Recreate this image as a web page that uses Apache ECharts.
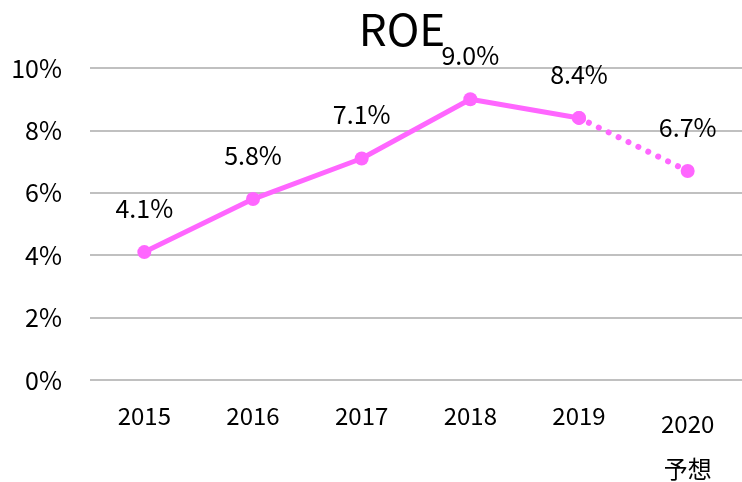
<!DOCTYPE html>
<html>
<head>
<meta charset="utf-8">
<script src="https://cdn.jsdelivr.net/npm/echarts@6/dist/echarts.min.js"></script>
<style>html,body{margin:0;padding:0;background:#fff}#c{width:742px;height:482px}</style>
</head>
<body>
<div id="c"></div>
<script>
const categories = ['2015', '2016', '2017', '2018', '2019', '2020\n予想'];
const actualValues = [4.1, 5.8, 7.1, 9.0, 8.4, null];
const forecastValues = [null, null, null, null, 8.4, 6.7];
const yTicks = { min: 0, max: 10, interval: 2 };

const FONT = '"Noto Sans CJK JP", "Noto Sans", sans-serif';
const COLOR = '#ff66ff';

const chart = echarts.init(document.getElementById('c'), null, { renderer: 'canvas' });
chart.setOption({
  animation: false,
  backgroundColor: '#ffffff',
  title: {
    text: 'ROE',
    left: 397,
    top: 2,
    textAlign: 'center',
    textStyle: { fontFamily: FONT, fontSize: 44, fontWeight: 'normal', color: '#000' }
  },
  grid: { left: 90, right: 0, top: 68, bottom: 102 },
  xAxis: {
    type: 'category',
    data: categories,
    axisLine: { show: false },
    axisTick: { show: false },
    axisLabel: {
      interval: 0,
      hideOverlap: false,
      margin: 21,
      fontFamily: FONT,
      fontSize: 24,
      color: '#000',
      formatter: function (v) {
        const parts = v.split('\n');
        if (parts.length > 1) return '{a|' + parts[0] + '}\n{b|' + parts[1] + '}';
        return '{n|' + v + '}';
      },
      rich: {
        n: { fontFamily: FONT, fontSize: 24, color: '#000', lineHeight: 30 },
        a: { fontFamily: FONT, fontSize: 24, color: '#000', lineHeight: 46 },
        b: { fontFamily: FONT, fontSize: 24, color: '#000', lineHeight: 44 }
      }
    }
  },
  yAxis: {
    type: 'value',
    min: yTicks.min,
    max: yTicks.max,
    interval: yTicks.interval,
    axisLine: { show: false },
    axisTick: { show: false },
    axisLabel: { formatter: '{value}%', fontFamily: FONT, fontSize: 25, color: '#000', margin: 28 },
    splitLine: { lineStyle: { color: '#c0c0c0', width: 2 } }
  },
  series: [
    {
      type: 'line',
      data: actualValues,
      symbol: 'circle',
      symbolSize: 14,
      itemStyle: { color: COLOR },
      lineStyle: { color: COLOR, width: 5 },
      label: {
        show: true, position: 'top', distance: 24,
        formatter: function (p) { return p.value.toFixed(1) + '%'; },
        fontFamily: FONT, fontSize: 25, color: '#000'
      },
      z: 3
    },
    {
      type: 'line',
      data: forecastValues,
      symbol: 'circle',
      symbolSize: 14,
      itemStyle: { color: COLOR },
      lineStyle: { color: COLOR, width: 6, type: [0.01, 11], cap: 'round' },
      label: {
        show: true, position: 'top', distance: 24,
        formatter: function (p) { return p.dataIndex === 5 ? p.value.toFixed(1) + '%' : ''; },
        fontFamily: FONT, fontSize: 25, color: '#000'
      },
      z: 2
    }
  ]
});
</script>
</body>
</html>
